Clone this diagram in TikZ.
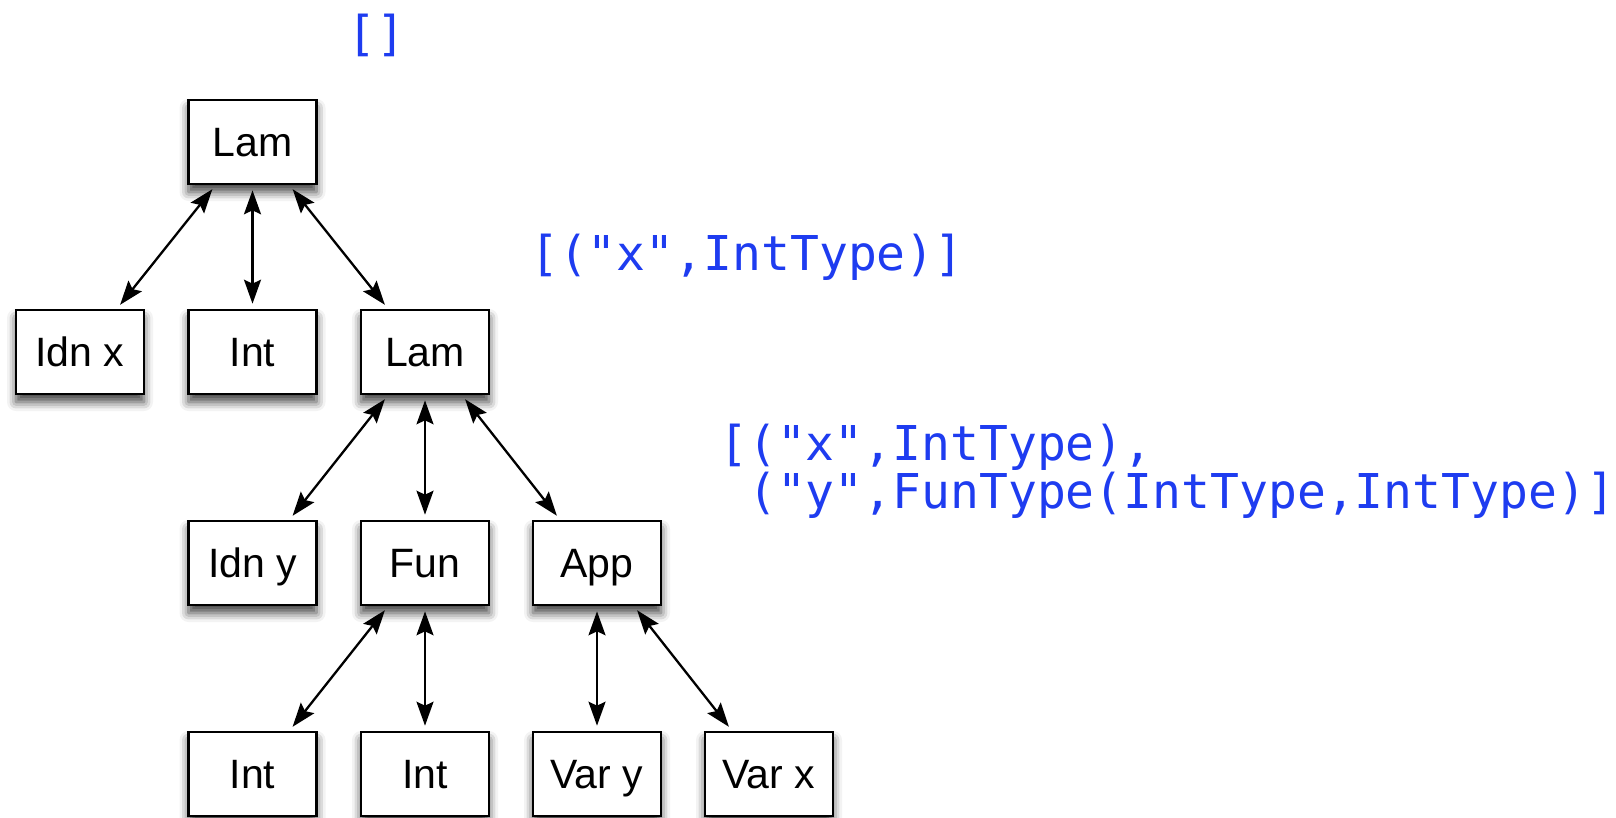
\documentclass[tikz,border=0pt]{standalone}
\usepackage{fontspec}
\setmainfont{Liberation Sans}
\newfontfamily\codefont{DejaVu Sans Mono}
\usetikzlibrary{arrows.meta,shadows.blur,calc}
\definecolor{ctxblue}{RGB}{30,60,240}
\begin{document}
\begin{tikzpicture}[x=1pt,y=-1pt,
  astnode/.style={draw=black, line width=2.6pt, fill=white,
    minimum width=128pt, minimum height=84pt, inner sep=0pt,
    text height=29.5pt, text depth=0pt,
    font=\fontsize{41}{49}\selectfont,
    blur shadow={shadow xshift=0pt, shadow yshift=-8pt,
      shadow blur radius=9pt, shadow opacity=75}},
  headtip/.tip={Stealth[length=24pt,width=17pt,inset=4pt]},
  link/.style={headtip-headtip, line width=2.3pt, shorten <=5pt, shorten >=5pt},
  env/.style={anchor=base west, inner sep=0pt, text=ctxblue,
    font=\codefont\fontsize{48}{48}\selectfont}]
\useasboundingbox (0,0) rectangle (1616,818);

% abstract syntax tree
\node[astnode] (lam1) at (252.5,142) {Lam};
\node[astnode] (idnx) at (80,352)    {Idn x};
\node[astnode] (int1) at (252.5,352) {Int};
\node[astnode] (lam2) at (425,352)   {Lam};
\node[astnode] (idny) at (252.5,563) {Idn y};
\node[astnode] (fun)  at (425,563)   {Fun};
\node[astnode] (app)  at (597,563)   {App};
\node[astnode] (int2) at (252.5,774) {Int};
\node[astnode] (int3) at (425,774)   {Int};
\node[astnode] (vary) at (597,774)   {Var y};
\node[astnode] (varx) at (769,774)   {Var x};

% parent/child links
\draw[link] ([xshift=-37pt]lam1.south) -- ([xshift=37pt]idnx.north);
\draw[link] (lam1.south) -- (int1.north);
\draw[link] ([xshift=37pt]lam1.south) -- ([xshift=-37pt]lam2.north);
\draw[link] ([xshift=-37pt]lam2.south) -- ([xshift=37pt]idny.north);
\draw[link] (lam2.south) -- (fun.north);
\draw[link] ([xshift=37pt]lam2.south) -- ([xshift=-37pt]app.north);
\draw[link] ([xshift=-37pt]fun.south) -- ([xshift=37pt]int2.north);
\draw[link] (fun.south) -- (int3.north);
\draw[link] (app.south) -- (vary.north);
\draw[link] ([xshift=37pt]app.south) -- ([xshift=-37pt]varx.north);

% environments at each scope
\node[env] (ctx0)  at (347,51)  {[]};
\node[env] (ctx1)  at (530,270) {[("x",IntType)]};
\node[env] (ctx2a) at (719,460) {[("x",IntType),};
\node[env] (ctx2b) at (719,508) {\phantom{[}("y",FunType(IntType,IntType)]};
\end{tikzpicture}
\end{document}
